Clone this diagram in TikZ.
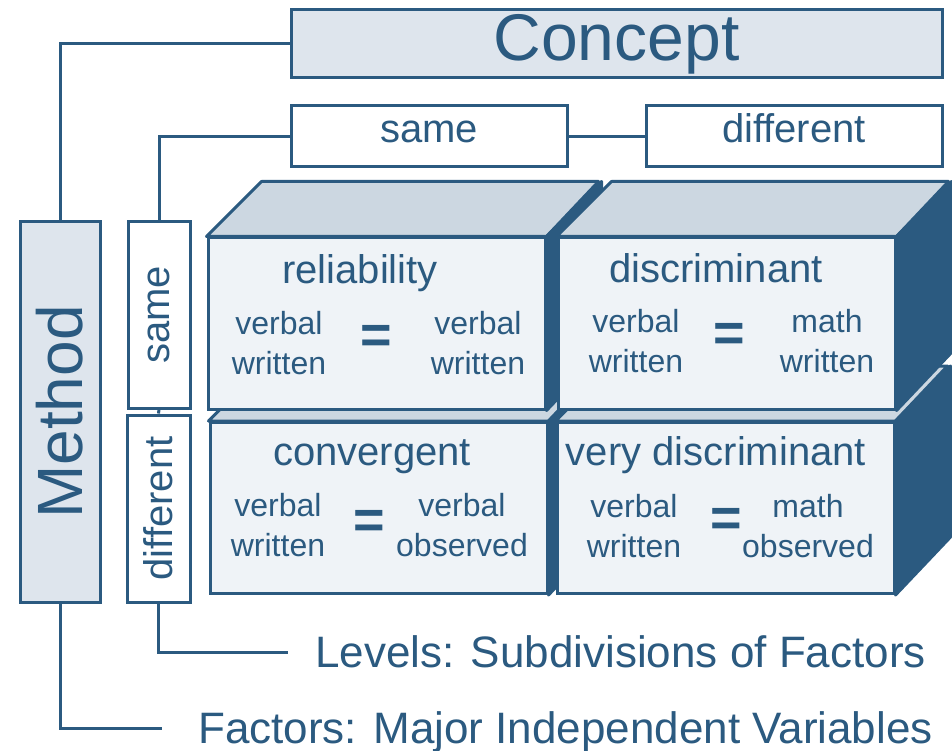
\documentclass[tikz,border=0pt]{standalone}
\usepackage{fontspec}
\setmainfont{Liberation Sans}
\definecolor{scuro}{RGB}{43,90,128}
\definecolor{chiaro}{RGB}{239,243,247}
\definecolor{tetto}{RGB}{204,215,225}
\definecolor{pieno}{RGB}{222,229,237}

\begin{document}
\begin{tikzpicture}[x=1pt,y=-1pt,
        linea/.style={draw=scuro,line width=3pt},
        riquadro/.style={draw=scuro,line width=3pt,fill=white,text=scuro,inner sep=0pt},
        fronte/.style={draw=scuro,line width=3pt,fill=chiaro,minimum width=337pt,minimum height=171pt,inner sep=0pt},
        faccia/.style={draw=scuro,line width=3pt,fill=tetto,line join=round},
        lato/.style={draw=scuro,line width=3pt,fill=scuro,line join=round},
        titolo/.style={text=scuro,font=\fontsize{40}{40}\selectfont,anchor=base,inner sep=0pt},
        coppia/.style={text=scuro,font=\fontsize{32}{40}\selectfont,align=center,inner sep=0pt},
        uguale/.style={text=scuro,font=\fontsize{54}{54}\selectfont\bfseries,inner sep=0pt},
        didascalia/.style={text=scuro,font=\fontsize{44}{44}\selectfont,anchor=west,text depth=0pt}]
        \path[use as bounding box,fill=white] (0,0) rectangle (952,751);

        %%%%%%%%%% Riquadri %%%%%%%%%%
        \node[riquadro,fill=pieno,minimum width=651pt,minimum height=68pt,font=\fontsize{66}{66}\selectfont] (conc) at (616.5,44) {Concept};
        \node[riquadro,fill=pieno,minimum width=380pt,minimum height=80pt,rotate=90,font=\fontsize{64}{64}\selectfont] (met) at (60,412) {Method};
        \node[riquadro,minimum width=276pt,minimum height=61pt,font=\fontsize{40}{40}\selectfont,text height=22pt,text depth=10pt] (csame) at (429,136.5) {same};
        \node[riquadro,minimum width=296pt,minimum height=61pt,font=\fontsize{40}{40}\selectfont,text height=22pt,text depth=10pt] (cdiff) at (794,136.5) {different};
        \node[riquadro,minimum width=186pt,minimum height=62pt,rotate=90,font=\fontsize{40}{40}\selectfont] (msame) at (159,315) {same};
        \node[riquadro,minimum width=187pt,minimum height=63pt,rotate=90,font=\fontsize{40}{40}\selectfont] (mdiff) at (158.5,508.5) {different};

        %%%%%%%%%% Cubi %%%%%%%%%%
        \node[fronte] (conv) at (378.5,508) {};
        \path[faccia] (conv.north west) -- ++(55,-55) -- ++(337,0) -- (conv.north east) -- cycle;
        \path[lato] (conv.north east) -- ++(55,-55) -- ++(0,171) -- (conv.south east) -- cycle;
        \node[fronte] (vdis) at (725.5,508) {};
        \path[faccia] (vdis.north west) -- ++(55,-55) -- ++(337,0) -- (vdis.north east) -- cycle;
        \path[lato] (vdis.north east) -- ++(55,-55) -- ++(0,171) -- (vdis.south east) -- cycle;
        \node[fronte] (rel) at (376.5,323.5) {};
        \path[faccia] (rel.north west) -- ++(55,-55) -- ++(337,0) -- (rel.north east) -- cycle;
        \path[lato] (rel.north east) -- ++(55,-55) -- ++(0,171) -- (rel.south east) -- cycle;
        \node[fronte] (dis) at (726.5,323.5) {};
        \path[faccia] (dis.north west) -- ++(55,-55) -- ++(337,0) -- (dis.north east) -- cycle;
        \path[lato] (dis.north east) -- ++(55,-55) -- ++(0,171) -- (dis.south east) -- cycle;

        %%%%%%%%%% Testi %%%%%%%%%%
        \node[titolo] (relT) at (360,283) {reliability};
        \node[coppia] (relA) at (279,343.5) {verbal\\written};
        \node[uguale] (relU) at (376,339) {=};
        \node[coppia] (relB) at (478,343.5) {verbal\\written};

        \node[titolo] (disT) at (716,282) {discriminant};
        \node[coppia] (disA) at (636,341.5) {verbal\\written};
        \node[uguale] (disU) at (729,337) {=};
        \node[coppia] (disB) at (827,341.5) {math\\written};

        \node[titolo] (convT) at (372,465) {convergent};
        \node[coppia] (convA) at (278,525.5) {verbal\\written};
        \node[uguale] (convU) at (369,524) {=};
        \node[coppia] (convB) at (462,525.5) {verbal\\observed};

        \node[titolo] (vdisT) at (716,465) {very discriminant};
        \node[coppia] (vdisA) at (634,526.5) {verbal\\written};
        \node[uguale] (vdisU) at (726,522) {=};
        \node[coppia] (vdisB) at (808,526.5) {math\\observed};

        \node[didascalia,inner xsep=27pt] (livelli) at (288,652) {Levels: Subdivisions of Factors};
        \node[didascalia,inner xsep=36pt] (fattori) at (162,728) {Factors: Major Independent Variables};

        %%%%%%%%% Linee %%%%%%%%%
        \draw[linea] (met.east) |- (conc.west);
        \draw[linea] (csame.west) -| (msame.east);
        \draw[linea] (csame.east) -- (cdiff.west);
        \draw[linea] (msame.west) -- (mdiff.east);
        \draw[linea] (mdiff.west) |- (livelli.west);
        \draw[linea] (met.west) |- (fattori.west);
    \end{tikzpicture}
\end{document}
